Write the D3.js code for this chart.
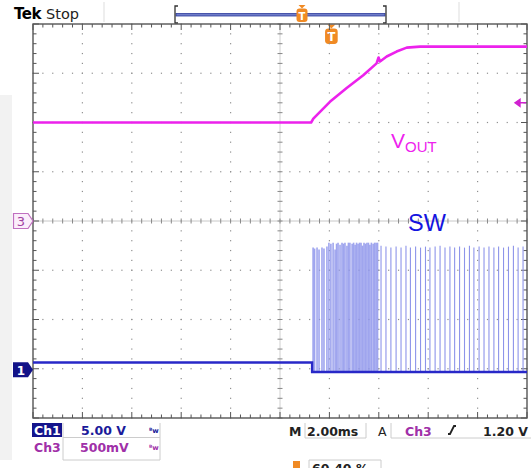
<!DOCTYPE html>
<html>
<head>
<meta charset="utf-8">
<script src="https://cdn.jsdelivr.net/npm/d3@7"></script>
<style>
  body { margin: 0; background: #fff; }
  svg { display: block; }
</style>
</head>
<body>
<div id="scope"></div>
<script>
// Ch3 = VOUT, [time in ms from trigger, volts]
var voutT = [-12.08, -0.82, -0.73, -0.06, 0.62, 1.29, 1.83, 1.91, 1.97, 2.24, 2.64, 3.05, 3.59, 7.92];
var voutV = [1.00, 1.00, 1.04, 1.21, 1.35, 1.48, 1.60, 1.66, 1.62, 1.67, 1.72, 1.76, 1.77, 1.77];

// Ch1 = SW, resting level before and after switching starts
var swT = [-12.08, -0.78, -0.78, 7.92];
var swV = [0.73, 0.73, -0.23, -0.23];

// SW pulses during the soft-start burst
var burstT = [-0.74, -0.68, -0.58, -0.50, -0.38, -0.30, -0.18, -0.10, -0.02, 0.07, 0.15, 0.21, 0.27, 0.35, 0.43, 0.49, 0.55, 0.63, 0.69, 0.75, 0.84, 0.90, 0.96, 1.02, 1.08, 1.14, 1.20, 1.26, 1.32, 1.38, 1.44, 1.50, 1.56, 1.62, 1.69, 1.75, 1.81, 1.87];
var burstV = [12.4, 12.3, 12.4, 12.2, 12.4, 12.3, 12.5, 12.9, 12.8, 12.9, 12.2, 12.8, 12.9, 12.7, 12.9, 12.8, 12.9, 12.6, 12.9, 12.9, 12.8, 12.9, 12.7, 12.9, 12.8, 12.9, 12.9, 12.6, 12.9, 12.8, 12.9, 12.9, 12.7, 12.9, 12.8, 12.9, 12.9, 12.9];

// SW pulses in regulation
var pulseT = [2.01, 2.21, 2.41, 2.62, 2.82, 3.02, 3.20, 3.41, 3.61, 3.81, 3.99, 4.20, 4.40, 4.60, 4.80, 4.99, 5.19, 5.39, 5.59, 5.77, 5.98, 6.18, 6.38, 6.58, 6.77, 6.97, 7.17, 7.37, 7.56, 7.76];
var pulseV = [12.6, 12.5, 12.4, 12.5, 12.4, 12.6, 12.4, 12.5, 12.4, 12.5, 12.4, 12.5, 12.6, 12.4, 12.5, 12.4, 12.5, 12.4, 12.6, 12.4, 12.5, 12.4, 12.5, 12.4, 12.5, 12.4, 12.5, 12.6, 12.4, 12.5];

// readouts
var ch1Scale = "5.00 V", ch3Scale = "500mV", timeBase = "2.00ms", trigLevel = "1.20 V", trigPos = "60.40 %";
var ch3VoltsPerDiv = 0.5, ch3Offset = 0;      // divisions
var ch1VoltsPerDiv = 5,   ch1Offset = -3.02;
var trigVolts = 1.2;

var W = 531, H = 468;
var svg = d3.select("#scope").append("svg")
  .attr("width", W).attr("height", H)
  .style("font-family", "'DejaVu Sans', sans-serif");

// screen area (note: "top" is taken by window.top)
var scrL = 33, scrR = 527, scrT = 24, scrB = 418;

var x = d3.scaleLinear().domain([-12.08, 7.92]).range([scrL, scrR]);
var xDiv = d3.scaleLinear().domain([0, 10]).range([scrL, scrR]);
var yDiv = d3.scaleLinear().domain([-4, 4]).range([scrB, scrT]);
var y3 = function(v){ return yDiv(v / ch3VoltsPerDiv + ch3Offset); };
var y1 = function(v){ return yDiv(v / ch1VoltsPerDiv + ch1Offset); };

// light strip on the left
svg.append("rect").attr("x", 0).attr("y", 95).attr("width", 12).attr("height", 365).attr("fill", "#f2f2f2");

// header separators
svg.append("line").attr("x1", 104).attr("x2", 104).attr("y1", 2).attr("y2", 22).attr("stroke", "#ddd");
svg.append("line").attr("x1", 459).attr("x2", 459).attr("y1", 2).attr("y2", 22).attr("stroke", "#ddd");

svg.append("text").attr("x", 14).attr("y", 19).attr("font-size", 15).attr("font-weight", "bold")
  .attr("letter-spacing", -0.5).text("Tek");
svg.append("text").attr("x", 46).attr("y", 19).attr("font-size", 14.5).attr("fill", "#222").text("Stop");

// record bar
svg.append("rect").attr("x", 176).attr("y", 13.5).attr("width", 209).attr("height", 2.5)
  .attr("fill", "#6f7cc8").attr("stroke", "#2c3b9c").attr("stroke-width", 0.8);
svg.append("path").attr("d", "M178,6 H175 V23 H178 M383,6 H386 V23 H383")
  .attr("fill", "none").attr("stroke", "#333").attr("stroke-width", 1.3);

function tMarker(cx, cy, s){
  var g = svg.append("g").attr("transform", "translate(" + cx + "," + cy + ") scale(" + s + ")");
  g.append("path").attr("d", "M-3.5,-10 H3.5 L0,-6.5 Z").attr("fill", "#f08a24");
  g.append("rect").attr("x", -5.5).attr("y", -6.5).attr("width", 11).attr("height", 13.5).attr("rx", 3).attr("fill", "#f08a24");
  g.append("text").attr("x", 0).attr("y", 4.5).attr("text-anchor", "middle").attr("font-size", 10)
    .attr("font-weight", "bold").attr("fill", "#fff").text("T");
}
tMarker(302, 15, 1);
tMarker(x(0), 36, 1.15);

// graticule
var grid = svg.append("g");
d3.range(1, 10).forEach(function(i){
  if (i === 5) return;
  d3.range(0, 41).forEach(function(k){
    grid.append("rect").attr("x", xDiv(i) - 0.6).attr("y", yDiv(-4 + k * 0.2) - 0.6)
      .attr("width", 1.2).attr("height", 1.2).attr("fill", "#909090");
  });
});
d3.range(1, 8).forEach(function(j){
  if (j === 4) return;
  d3.range(0, 51).forEach(function(k){
    grid.append("rect").attr("x", xDiv(k * 0.2) - 0.6).attr("y", yDiv(-4 + j) - 0.6)
      .attr("width", 1.2).attr("height", 1.2).attr("fill", "#909090");
  });
});
// centre lines with ticks
grid.append("line").attr("x1", xDiv(5)).attr("x2", xDiv(5)).attr("y1", scrT).attr("y2", scrB).attr("stroke", "#d0d0d0");
grid.append("line").attr("x1", scrL).attr("x2", scrR).attr("y1", yDiv(0)).attr("y2", yDiv(0)).attr("stroke", "#c8c8c8");
d3.range(0, 51).forEach(function(k){
  grid.append("line").attr("x1", xDiv(k * 0.2)).attr("x2", xDiv(k * 0.2))
    .attr("y1", yDiv(0) - 2.5).attr("y2", yDiv(0) + 2.5).attr("stroke", "#888");
});
d3.range(0, 41).forEach(function(k){
  grid.append("line").attr("x1", xDiv(5) - 2.5).attr("x2", xDiv(5) + 2.5)
    .attr("y1", yDiv(-4 + k * 0.2)).attr("y2", yDiv(-4 + k * 0.2)).attr("stroke", "#888");
});
// border with inward ticks
grid.append("rect").attr("x", scrL).attr("y", scrT).attr("width", scrR - scrL).attr("height", scrB - scrT)
  .attr("fill", "none").attr("stroke", "#555").attr("stroke-width", 1.4);
d3.range(0, 51).forEach(function(k){
  var len = (k % 5 === 0) ? 6 : 3.5;
  grid.append("line").attr("x1", xDiv(k * 0.2)).attr("x2", xDiv(k * 0.2)).attr("y1", scrT).attr("y2", scrT + len).attr("stroke", "#555");
  grid.append("line").attr("x1", xDiv(k * 0.2)).attr("x2", xDiv(k * 0.2)).attr("y1", scrB).attr("y2", scrB - len).attr("stroke", "#555");
});
d3.range(0, 41).forEach(function(k){
  var len = (k % 5 === 0) ? 6 : 3.5;
  grid.append("line").attr("x1", scrL).attr("x2", scrL + len).attr("y1", yDiv(-4 + k * 0.2)).attr("y2", yDiv(-4 + k * 0.2)).attr("stroke", "#555");
  grid.append("line").attr("x1", scrR).attr("x2", scrR - len).attr("y1", yDiv(-4 + k * 0.2)).attr("y2", yDiv(-4 + k * 0.2)).attr("stroke", "#555");
});

// SW pulses
var burstData = burstT.map(function(t, i){ return {t: t, v: burstV[i]}; });
var pulseData = pulseT.map(function(t, i){ return {t: t, v: pulseV[i]}; });
svg.append("g").selectAll("line").data(burstData).enter().append("line")
  .attr("x1", function(d){ return x(d.t); }).attr("x2", function(d){ return x(d.t); })
  .attr("y1", y1(-0.23)).attr("y2", function(d){ return y1(d.v); })
  .attr("stroke", "#8f96ec").attr("stroke-width", 1.6).attr("opacity", 0.85);
svg.append("g").selectAll("line").data(pulseData).enter().append("line")
  .attr("x1", function(d){ return x(d.t); }).attr("x2", function(d){ return x(d.t); })
  .attr("y1", y1(-0.23)).attr("y2", function(d){ return y1(d.v); })
  .attr("stroke", "#8d94ea").attr("stroke-width", 1.1);

// SW baseline
var swLine = d3.line().x(function(d){ return x(d[0]); }).y(function(d){ return y1(d[1]); });
svg.append("path").datum(swT.map(function(t, i){ return [t, swV[i]]; }))
  .attr("d", swLine).attr("fill", "none").attr("stroke", "#2828c8").attr("stroke-width", 2.4);

// VOUT
var voutLine = d3.line().x(function(d){ return x(d[0]); }).y(function(d){ return y3(d[1]); });
svg.append("path").datum(voutT.map(function(t, i){ return [t, voutV[i]]; }))
  .attr("d", voutLine).attr("fill", "none").attr("stroke", "#ec22ec").attr("stroke-width", 2.6)
  .attr("stroke-linejoin", "round");

// trigger level arrow
var ty = y3(trigVolts);
svg.append("path").attr("d", "M515," + ty + " l5,-3.5 v7 Z M519," + ty + " H526")
  .attr("fill", "#d020d0").attr("stroke", "#d020d0").attr("stroke-width", 1.4);

// channel ground markers
svg.append("path").attr("d", "M13.5," + (y3(0) - 7.5) + " H28 L33," + y3(0) + " L28," + (y3(0) + 7.5) + " H13.5 Z")
  .attr("fill", "#fbeefb").attr("stroke", "#c070c0").attr("stroke-width", 1.2);
svg.append("text").attr("x", 21).attr("y", y3(0) + 5).attr("text-anchor", "middle").attr("font-size", 13)
  .attr("fill", "#a040a0").text("3");
svg.append("path").attr("d", "M13," + (y1(0) - 7.5) + " H28 L33," + y1(0) + " L28," + (y1(0) + 7.5) + " H13 Z")
  .attr("fill", "#121288");
svg.append("text").attr("x", 21).attr("y", y1(0) + 5).attr("text-anchor", "middle").attr("font-size", 12)
  .attr("font-weight", "bold").attr("fill", "#fff").text("1");

// trace labels
var vlab = svg.append("text").attr("x", 391).attr("y", 148).attr("fill", "#ee22ee")
  .style("font-family", "'Liberation Sans', Arial, sans-serif");
vlab.append("tspan").attr("font-size", 21).text("V");
vlab.append("tspan").attr("font-size", 15).attr("dy", 4).text("OUT");
svg.append("text").attr("x", 408).attr("y", 231).attr("fill", "#1414e0").attr("font-size", 23.5)
  .style("font-family", "'Liberation Sans', Arial, sans-serif").text("SW");

// readouts
var ro = svg.append("g").attr("font-size", 12.5).attr("font-weight", "bold");
ro.append("rect").attr("x", 32).attr("y", 423).attr("width", 30).attr("height", 14).attr("fill", "#14148c");
ro.append("text").attr("x", 34).attr("y", 435).attr("fill", "#fff").text("Ch1");
ro.append("path").attr("d", "M63,423 V460 H160 V423 M63,437.5 H160").attr("fill", "none").attr("stroke", "#ccc");
ro.append("text").attr("x", 81).attr("y", 435).attr("fill", "#1a1a9a").text(ch1Scale);
ro.append("text").attr("x", 34).attr("y", 452).attr("fill", "#a030a8").text("Ch3");
ro.append("text").attr("x", 80).attr("y", 452).attr("fill", "#a030a8").text(ch3Scale);
ro.append("text").attr("x", 149).attr("y", 433).attr("font-size", 7).attr("fill", "#1a1a9a").text("ᴮw");
ro.append("text").attr("x", 149).attr("y", 450).attr("font-size", 7).attr("fill", "#a030a8").text("ᴮw");

ro.append("text").attr("x", 289).attr("y", 436).attr("fill", "#222").text("M");
ro.append("path").attr("d", "M305,423 V438 H366 V423").attr("fill", "none").attr("stroke", "#ccc");
ro.append("text").attr("x", 307).attr("y", 436).attr("fill", "#222").text(timeBase);
ro.append("text").attr("x", 378).attr("y", 436).attr("fill", "#222").attr("font-weight", "normal").text("A");
ro.append("path").attr("d", "M391,423 V438 H531").attr("fill", "none").attr("stroke", "#ccc");
ro.append("text").attr("x", 405).attr("y", 436).attr("fill", "#a030a8").text("Ch3");
ro.append("path").attr("d", "M448,434 h2 l4,-8 h2").attr("fill", "none").attr("stroke", "#222").attr("stroke-width", 1.8);
ro.append("text").attr("x", 483).attr("y", 436).attr("fill", "#222").text(trigLevel);

// trigger position readout runs off the bottom edge, as in the capture
ro.append("rect").attr("x", 293).attr("y", 461).attr("width", 7).attr("height", 8).attr("fill", "#f08a24");
ro.append("path").attr("d", "M309,475 V460 H381 V475").attr("fill", "none").attr("stroke", "#ccc");
ro.append("text").attr("x", 312).attr("y", 473).attr("fill", "#222").text(trigPos);
</script>
</body>
</html>
